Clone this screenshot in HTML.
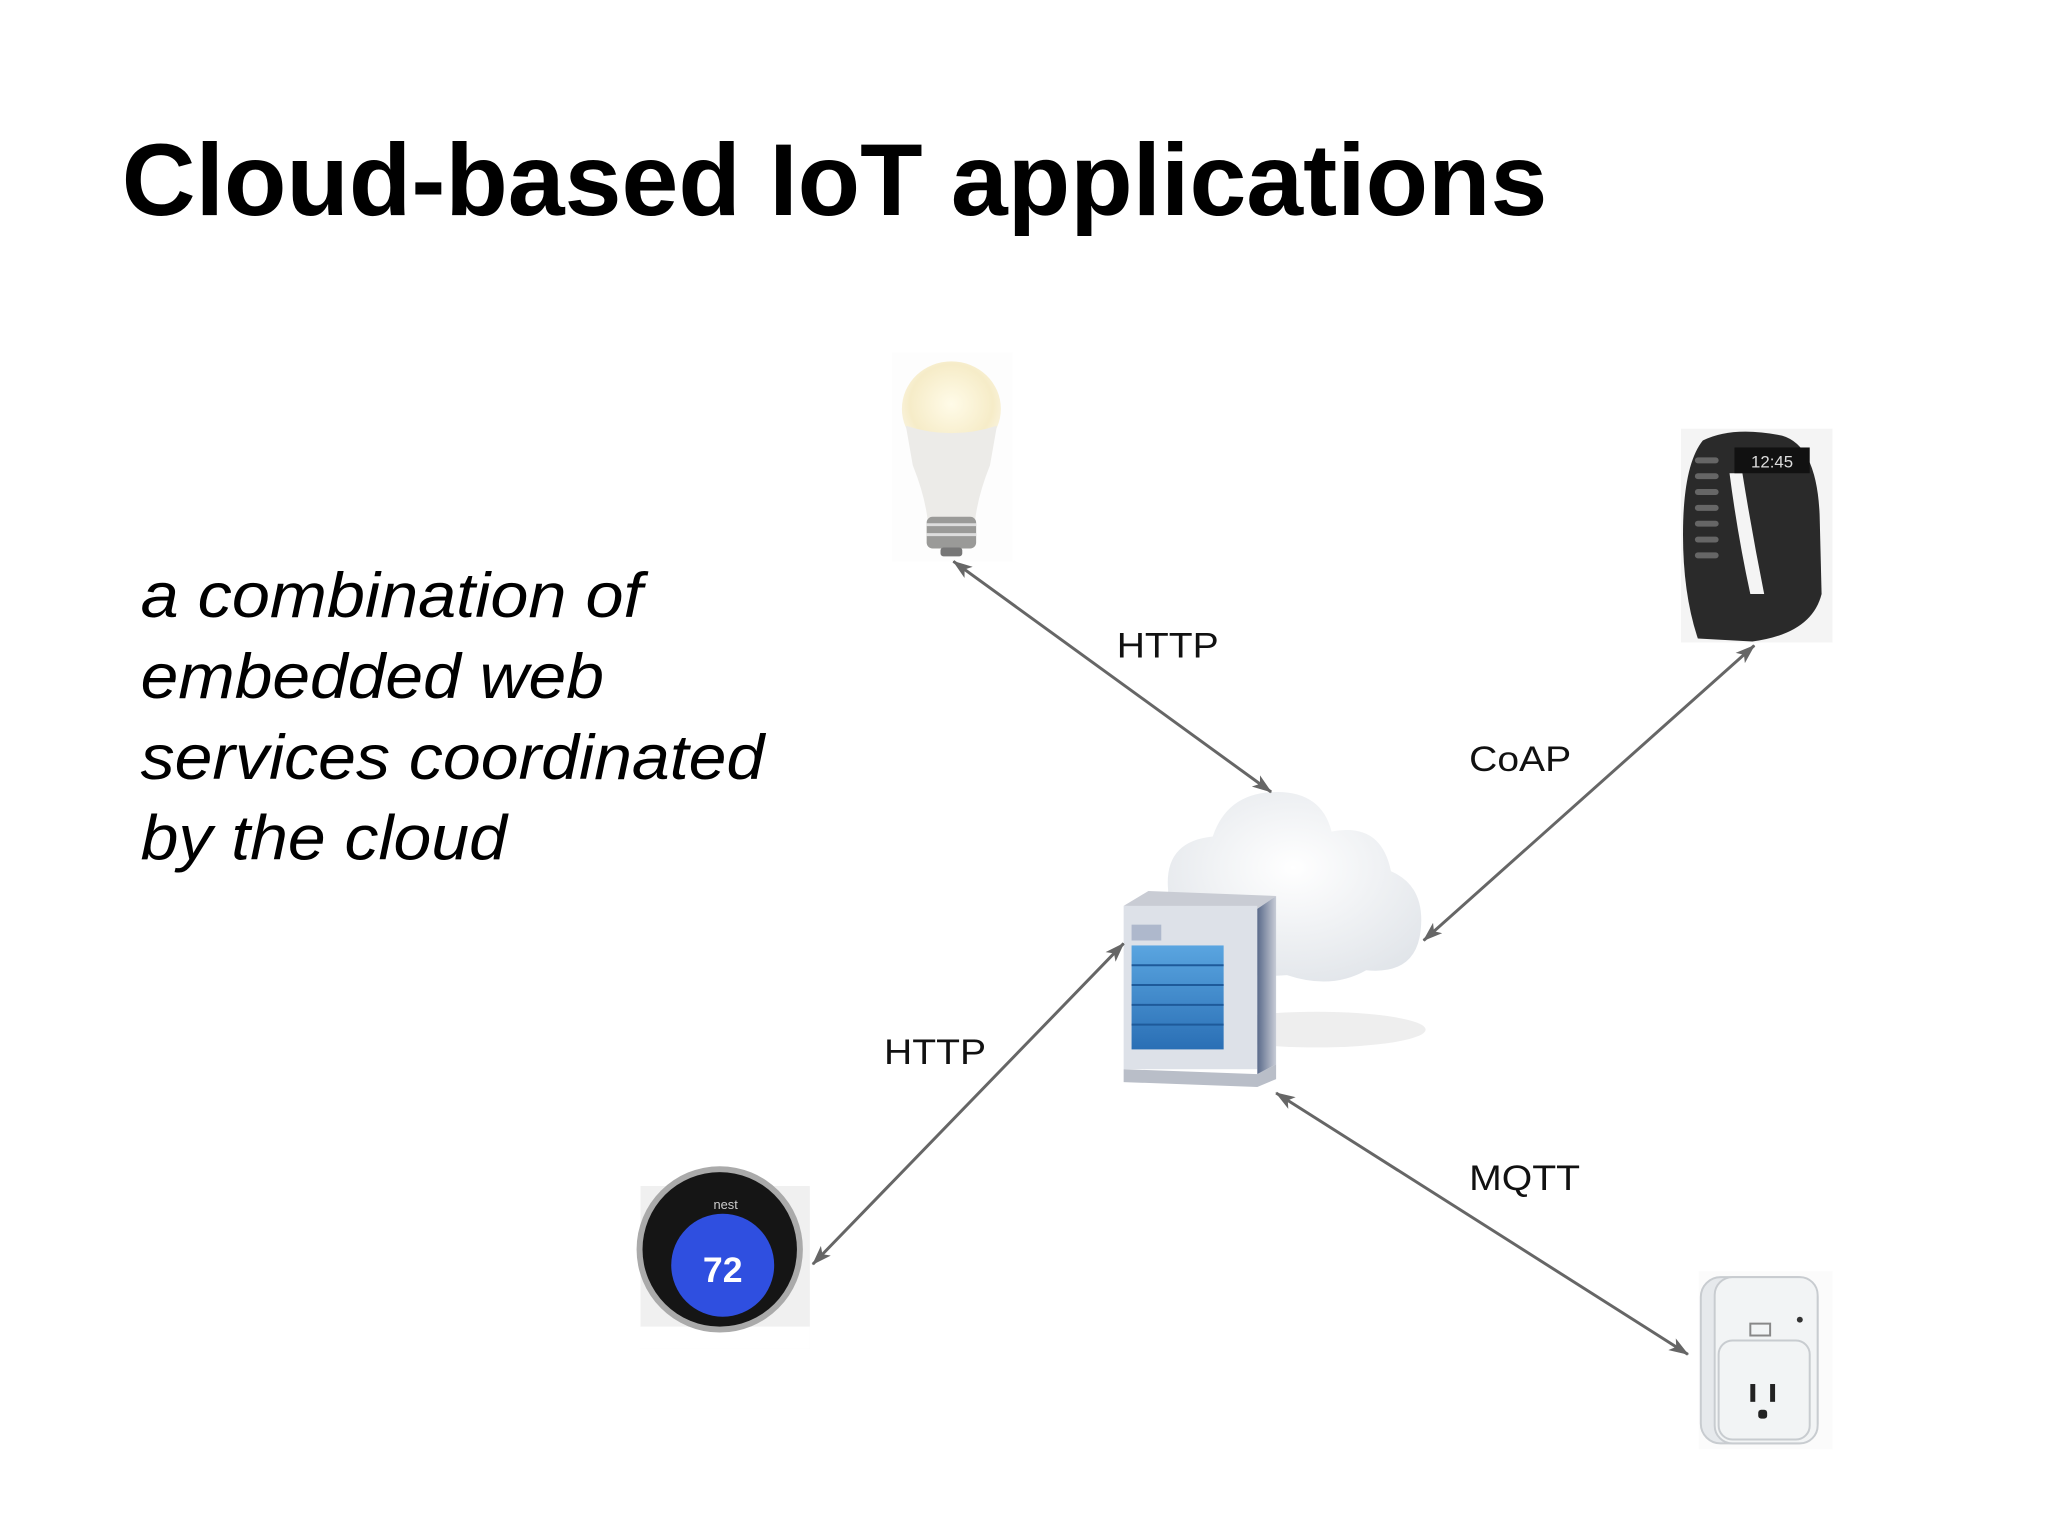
<!DOCTYPE html>
<html><head><meta charset="utf-8"><style>html,body{margin:0;padding:0;background:#fff}svg{display:block}</style></head>
<body>
<svg width="2048" height="1536" viewBox="0 0 2048 1536" xmlns="http://www.w3.org/2000/svg">
<defs>
<marker id="ah" viewBox="0 0 20 14" refX="19" refY="7" markerWidth="20" markerHeight="14" markerUnits="userSpaceOnUse" orient="auto-start-reverse">
<path d="M0,0 L20,7 L0,14 L5,7 Z" fill="#666"/>
</marker>
<radialGradient id="bulb" cx="0.5" cy="0.45" r="0.6"><stop offset="0" stop-color="#fffbe8"/><stop offset="0.7" stop-color="#f6ecc8"/><stop offset="1" stop-color="#fbf6e6"/></radialGradient>
<linearGradient id="blue" x1="0" y1="0" x2="0" y2="1"><stop offset="0" stop-color="#5aa5e0"/><stop offset="1" stop-color="#2a6fb5"/></linearGradient>
<linearGradient id="side" x1="0" y1="0" x2="1" y2="0"><stop offset="0" stop-color="#5a6a8a"/><stop offset="1" stop-color="#c8ccd6"/></linearGradient>
<radialGradient id="cloudg" cx="0.5" cy="0.4" r="0.7"><stop offset="0" stop-color="#ffffff"/><stop offset="1" stop-color="#dfe3e8"/></radialGradient>
</defs>
<rect width="2048" height="1536" fill="#fff"/>
<g transform="scale(0.99)">
<text x="123" y="217" font-family="Liberation Sans, Arial, sans-serif" font-weight="bold" font-size="103" textLength="1440" lengthAdjust="spacingAndGlyphs">Cloud-based IoT applications</text>

<g font-family="Liberation Sans, Arial, sans-serif" font-style="italic" font-size="64">
<text x="142" y="623" textLength="507" lengthAdjust="spacingAndGlyphs">a combination of</text>
<text x="142" y="705" textLength="468" lengthAdjust="spacingAndGlyphs">embedded web</text>
<text x="142" y="787" textLength="630" lengthAdjust="spacingAndGlyphs">services coordinated</text>
<text x="142" y="868" textLength="370" lengthAdjust="spacingAndGlyphs">by the cloud</text>
</g>

<!-- bulb -->
<g>
<rect x="901" y="356" width="122" height="211" fill="#fdfdfd"/>
<ellipse cx="961" cy="413" rx="50" ry="48" fill="url(#bulb)"/>
<path d="M915,430 Q961,445 1007,430 L1000,470 Q988,500 985,525 L937,525 Q934,500 922,470 Z" fill="#ecebe8"/>
<rect x="936" y="522" width="50" height="32" rx="6" fill="#9a9a98"/>
<line x1="936" y1="530" x2="986" y2="530" stroke="#ddd" stroke-width="3"/>
<line x1="936" y1="540" x2="986" y2="540" stroke="#ddd" stroke-width="3"/>
<rect x="950" y="553" width="22" height="9" rx="3" fill="#777"/>
</g>

<!-- fitbit -->
<g>
<rect x="1698" y="433" width="153" height="216" fill="#f4f4f4"/>
<path d="M1720,445 Q1750,430 1800,440 Q1835,450 1838,520 L1840,600 Q1830,640 1770,648 L1715,645 Q1700,600 1700,540 Q1700,470 1720,445 Z" fill="#2a2a2a"/>
<path d="M1747,478 Q1755,540 1768,600 L1782,600 Q1770,540 1760,478 Z" fill="#f4f4f4"/>
<rect x="1752" y="452" width="76" height="26" fill="#111"/>
<text x="1790" y="472" font-family="Liberation Sans, sans-serif" font-size="17" fill="#ddd" text-anchor="middle">12:45</text>
<g fill="#666"><rect x="1712" y="462" width="24" height="6" rx="3"/><rect x="1712" y="478" width="24" height="6" rx="3"/><rect x="1712" y="494" width="24" height="6" rx="3"/><rect x="1712" y="510" width="24" height="6" rx="3"/><rect x="1712" y="526" width="24" height="6" rx="3"/><rect x="1712" y="542" width="24" height="6" rx="3"/><rect x="1712" y="558" width="24" height="6" rx="3"/></g>
</g>

<!-- cloud -->
<g>
<path d="M1180,900 Q1175,850 1225,845 Q1240,800 1290,800 Q1335,800 1345,840 Q1395,830 1405,880 Q1440,895 1435,940 Q1430,985 1380,980 Q1345,1000 1300,985 Q1240,990 1200,960 Q1170,940 1180,900 Z" fill="url(#cloudg)"/>
<ellipse cx="1330" cy="1040" rx="110" ry="18" fill="#eeeeee"/>
</g>

<!-- server -->
<g>
<polygon points="1135,915 1160,900 1289,905 1270,918" fill="#c9ccd4"/>
<rect x="1135" y="915" width="135" height="165" fill="#dde1e8"/>
<polygon points="1270,918 1289,905 1289,1075 1270,1085" fill="url(#side)"/>
<rect x="1143" y="934" width="30" height="16" fill="#aeb8cc"/>
<rect x="1143" y="955" width="93" height="105" fill="url(#blue)"/>
<g stroke="#1e5a9a" stroke-width="2"><line x1="1143" y1="975" x2="1236" y2="975"/><line x1="1143" y1="995" x2="1236" y2="995"/><line x1="1143" y1="1015" x2="1236" y2="1015"/><line x1="1143" y1="1035" x2="1236" y2="1035"/></g>
<polygon points="1135,1080 1270,1085 1289,1075 1289,1090 1270,1098 1135,1093" fill="#b9bec8"/>
</g>

<!-- nest -->
<g>
<rect x="647" y="1198" width="171" height="164" fill="#f0f0f0"/>
<rect x="647" y="1340" width="171" height="22" fill="#fff"/>
<circle cx="727" cy="1262" r="84" fill="#aaa"/>
<circle cx="727" cy="1262" r="78" fill="#151515"/>
<circle cx="730" cy="1278" r="52" fill="#2f4fe0"/>
<text x="730" y="1295" font-family="Liberation Sans, sans-serif" font-weight="bold" font-size="36" fill="#fff" text-anchor="middle">72</text>
<text x="733" y="1221" font-family="Liberation Sans, sans-serif" font-size="13" fill="#ccc" text-anchor="middle">nest</text>
</g>

<!-- plug -->
<g>
<rect x="1716" y="1284" width="135" height="180" fill="#fbfbfb"/>
<rect x="1718" y="1290" width="118" height="168" rx="20" fill="#e6e9ec" stroke="#c8ccd0" stroke-width="2"/>
<rect x="1732" y="1290" width="104" height="168" rx="18" fill="#f2f4f5" stroke="#c8ccd0" stroke-width="2"/>
<rect x="1736" y="1354" width="92" height="100" rx="14" fill="#f2f4f5" stroke="#c8ccd0" stroke-width="2"/>
<rect x="1768" y="1337" width="20" height="12" fill="none" stroke="#888" stroke-width="2"/>
<rect x="1768" y="1398" width="5" height="18" fill="#222"/><rect x="1788" y="1398" width="5" height="18" fill="#222"/>
<rect x="1776" y="1424" width="9" height="9" rx="3" fill="#222"/>
<circle cx="1818" cy="1333" r="3" fill="#333"/>
</g>

<!-- connectors -->
<g stroke="#666" stroke-width="3" fill="none">
<line x1="963" y1="567" x2="1284" y2="800" marker-start="url(#ah)" marker-end="url(#ah)"/>
<line x1="1772" y1="652" x2="1438" y2="950" marker-start="url(#ah)" marker-end="url(#ah)"/>
<line x1="1135" y1="953" x2="821" y2="1277" marker-start="url(#ah)" marker-end="url(#ah)"/>
<line x1="1289" y1="1104" x2="1705" y2="1368" marker-start="url(#ah)" marker-end="url(#ah)"/>
</g>

<g font-family="Liberation Sans, Arial, sans-serif" font-size="36" fill="#111">
<text x="1128" y="664" textLength="103" lengthAdjust="spacingAndGlyphs">HTTP</text>
<text x="1484" y="779" textLength="103" lengthAdjust="spacingAndGlyphs">CoAP</text>
<text x="893" y="1075" textLength="103" lengthAdjust="spacingAndGlyphs">HTTP</text>
<text x="1484" y="1202" textLength="112" lengthAdjust="spacingAndGlyphs">MQTT</text>
</g>
</g>
</svg>
</body></html>
